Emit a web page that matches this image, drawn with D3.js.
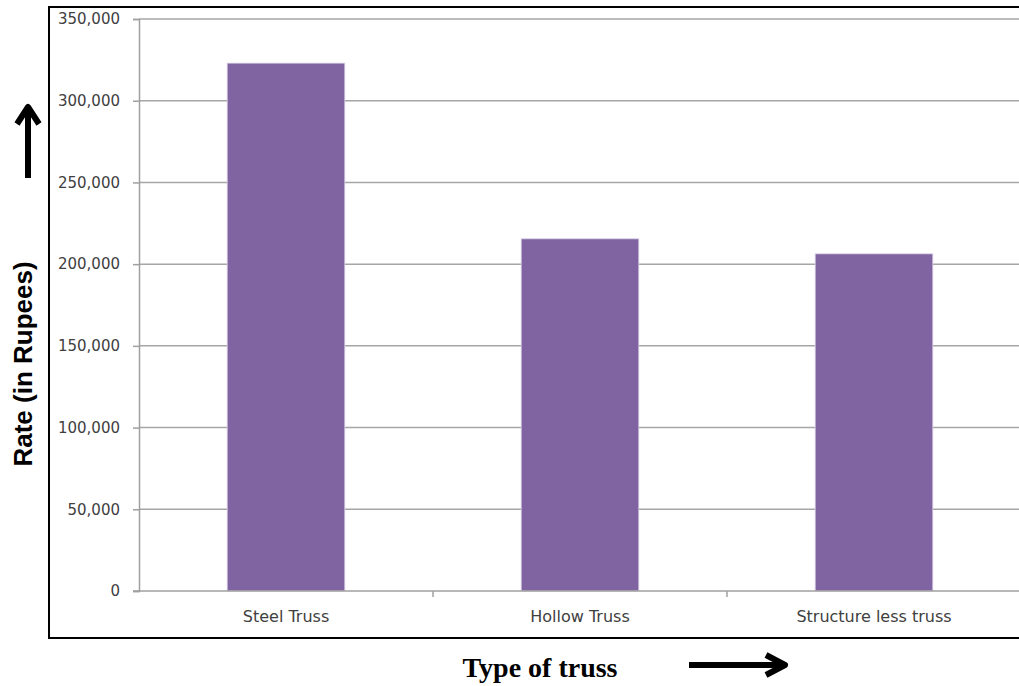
<!DOCTYPE html>
<html>
<head>
<meta charset="utf-8">
<script src="https://cdn.jsdelivr.net/npm/d3@7"></script>
<style>
  html, body { margin: 0; padding: 0; background: #fff; }
  svg { display: block; }
</style>
</head>
<body>
<svg id="chart" width="1019" height="686"></svg>
<script>
// Cost of each roof truss type
const categories = ["Steel Truss", "Hollow Truss", "Structure less truss"];
const rates = [323000, 215500, 206300];
const yTicks = [0, 50000, 100000, 150000, 200000, 250000, 300000, 350000];

const svg = d3.select("#chart");
const plot = { left: 139, right: 1021, top: 19, bottom: 591 };

const x = d3.scaleBand()
  .domain(categories)
  .range([plot.left, plot.right])
  .paddingInner(0.6)
  .paddingOuter(0.3);

const y = d3.scaleLinear()
  .domain([0, 350000])
  .range([plot.bottom, plot.top]);

const fmt = d3.format(",");

// outer frame of the chart area
svg.append("rect")
  .attr("x", 49).attr("y", 7)
  .attr("width", 1000).attr("height", 631)
  .attr("fill", "none")
  .attr("stroke", "#000")
  .attr("stroke-width", 2);

// horizontal gridlines
svg.append("g")
  .selectAll("line")
  .data(yTicks.filter(d => d > 0))
  .join("line")
  .attr("x1", plot.left).attr("x2", 1019)
  .attr("y1", d => y(d)).attr("y2", d => y(d))
  .attr("stroke", "#a6a6a6")
  .attr("stroke-width", 1.5);

// bars
svg.append("g")
  .selectAll("rect")
  .data(categories.map((c, i) => ({ c, v: rates[i] })))
  .join("rect")
  .attr("x", d => x(d.c))
  .attr("y", d => y(d.v))
  .attr("width", x.bandwidth())
  .attr("height", d => y(0) - y(d.v))
  .attr("fill", "#8064a2")
  .attr("stroke", "#d9cfe6")
  .attr("stroke-width", 0.8);

// y axis
const yAxis = d3.axisLeft(y)
  .tickValues(yTicks)
  .tickFormat(fmt)
  .tickSize(6)
  .tickPadding(13);

const gy = svg.append("g")
  .attr("transform", `translate(${plot.left},0)`)
  .call(yAxis);
gy.select(".domain").attr("stroke", "#a0a0a0").attr("stroke-width", 1.5);
gy.selectAll(".tick line").attr("stroke", "#a0a0a0").attr("stroke-width", 1.5);
gy.selectAll(".tick text")
  .attr("fill", "#404040")
  .style("font-family", "'DejaVu Sans', sans-serif")
  .style("font-size", "15px");

// x axis with ticks on category boundaries
const gx = svg.append("g")
  .attr("transform", `translate(0,${plot.bottom})`);
gx.append("line")
  .attr("x1", plot.left - 6).attr("x2", 1019)
  .attr("y1", 0).attr("y2", 0)
  .attr("stroke", "#a0a0a0")
  .attr("stroke-width", 1.5);
const step = x.step();
const bounds = categories.map((c, i) => x(c) - step * x.paddingInner() / 2);
gx.selectAll("line.bound")
  .data(bounds.slice(1))
  .join("line")
  .attr("class", "bound")
  .attr("x1", d => d).attr("x2", d => d)
  .attr("y1", 0).attr("y2", 6)
  .attr("stroke", "#a0a0a0")
  .attr("stroke-width", 1.5);
gx.selectAll("text")
  .data(categories)
  .join("text")
  .attr("x", d => x(d) + x.bandwidth() / 2)
  .attr("y", 26)
  .attr("dy", "0.32em")
  .attr("text-anchor", "middle")
  .attr("fill", "#404040")
  .style("font-family", "'DejaVu Sans', sans-serif")
  .style("font-size", "16px")
  .text(d => d);

// y axis title
svg.append("text")
  .attr("transform", "translate(32,364) rotate(-90)")
  .attr("text-anchor", "middle")
  .style("font-family", "'Liberation Sans', Arial, sans-serif")
  .style("font-weight", "bold")
  .style("font-size", "26px")
  .attr("fill", "#000")
  .text("Rate (in Rupees)");

// x axis title
svg.append("text")
  .attr("x", 540).attr("y", 677)
  .attr("text-anchor", "middle")
  .style("font-family", "'Liberation Serif', 'Times New Roman', serif")
  .style("font-weight", "bold")
  .style("font-size", "28px")
  .attr("fill", "#000")
  .text("Type of truss");

// direction arrows
const arrowG = svg.append("g")
  .attr("stroke", "#000")
  .attr("stroke-width", 6)
  .attr("fill", "none")
  .attr("stroke-linecap", "butt")
  .attr("stroke-linejoin", "round");
// up arrow beside the y title
arrowG.append("line").attr("x1", 28).attr("x2", 28).attr("y1", 178).attr("y2", 108);
arrowG.append("polyline").attr("points", "17,124 28,107 39,124");
// right arrow beside the x title
arrowG.append("line").attr("x1", 689).attr("x2", 784).attr("y1", 665).attr("y2", 665);
arrowG.append("polyline").attr("points", "766,655 785,665 766,675");
</script>
</body>
</html>
